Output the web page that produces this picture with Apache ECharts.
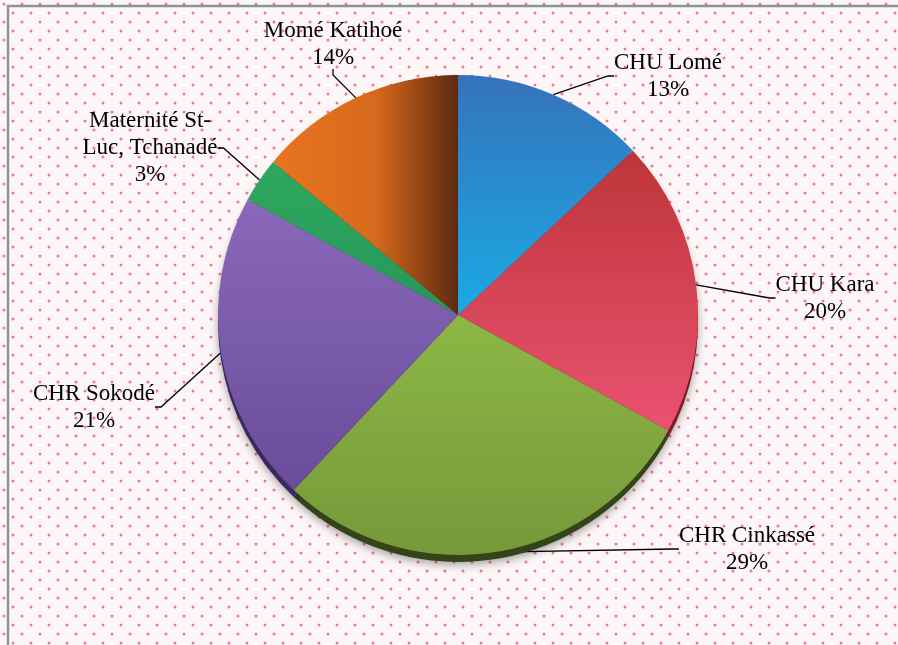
<!DOCTYPE html>
<html>
<head>
<meta charset="utf-8">
<script src="https://cdn.jsdelivr.net/npm/echarts@6/dist/echarts.min.js"></script>
<style>
  html, body { margin: 0; padding: 0; background: #fff; }
  #main { width: 898px; height: 645px; }
</style>
</head>
<body>
<div id="main"></div>
<script>
var hopitaux = ['CHU Lomé', 'CHU Kara', 'CHR Cinkassé', 'CHR Sokodé', 'Maternité St-\nLuc, Tchanadé', 'Momé Katihoé'];
var parts = [13, 20, 29, 21, 3, 14];

// couleurs des secteurs (haut, bas) + bord sombre
var couleurs = [
  ['#3672bc', '#1aaae3'],
  ['#bd3538', '#ea5271'],
  ['#8cb846', '#76983a'],
  ['#8a68ba', '#6a4c9a'],
  ['#2ea85e', '#26985a'],
  ['#e8741f', '#5c2a10']
];
var bords = ['#1a4a80', '#7a1e22', '#34441a', '#3a2860', '#145a30', '#5a2a0c'];

// placement des étiquettes (centre du bloc)
var labelPos = [[668, 76], [825, 298], [747, 549], [94, 407], [150, 148], [333, 44]];

// motif à pois roses
var motif = document.createElement('canvas');
motif.width = 18; motif.height = 18;
var c = motif.getContext('2d');
c.fillStyle = '#fdf6f7';
c.fillRect(0, 0, 18, 18);
c.fillStyle = '#ef7895';
[[4, 4], [13, 13]].forEach(function (p) {
  c.beginPath(); c.arc(p[0], p[1], 1.5, 0, Math.PI * 2); c.fill();
});

var myChart = echarts.init(document.getElementById('main'));

var faces = hopitaux.map(function (n, i) {
  var col = couleurs[i];
  var grad = i == 5
    ? new echarts.graphic.LinearGradient(0, 0, 1, 0, [
        {offset: 0, color: col[0]}, {offset: 0.55, color: '#d8691c'}, {offset: 1, color: col[1]}])
    : new echarts.graphic.LinearGradient(0, 0, 0, 1, [
        {offset: 0, color: col[0]}, {offset: 1, color: col[1]}]);
  return {name: n, value: parts[i], itemStyle: {color: grad}};
});
var dessous = hopitaux.map(function (n, i) {
  return {name: n, value: parts[i], itemStyle: {color: bords[i]}};
});

option = {
  backgroundColor: {image: motif, repeat: 'repeat'},
  animation: false,
  graphic: [{
    type: 'rect',
    shape: {x: 8, y: 6, width: 910, height: 660},
    style: {fill: null, stroke: '#8d949a', lineWidth: 2.5},
    silent: true
  }],
  series: [
    {
      type: 'pie',
      silent: true,
      center: [458, 322],
      radius: 240,
      startAngle: 90,
      clockwise: true,
      label: {show: false},
      labelLine: {show: false},
      itemStyle: {shadowBlur: 8, shadowColor: 'rgba(0,0,0,0.35)', shadowOffsetY: 3},
      data: dessous
    },
    {
      type: 'pie',
      center: [458, 315],
      radius: 240,
      startAngle: 90,
      clockwise: true,
      itemStyle: {borderWidth: 0},
      label: {
        formatter: function (p) {
          return '{n|' + p.name + '}\n{n|' + p.value + '%}';
        },
        rich: {
          n: {
            fontFamily: 'Liberation Serif',
            fontSize: 23,
            lineHeight: 27,
            color: '#000',
            align: 'center'
          }
        }
      },
      labelLine: {
        show: true,
        length2: 6,
        lineStyle: {color: '#000', width: 1.3}
      },
      labelLayout: function (params) {
        var p = labelPos[params.dataIndex];
        return {x: p[0], y: p[1], align: 'center', verticalAlign: 'middle'};
      },
      data: faces
    }
  ]
};
myChart.setOption(option);
</script>
</body>
</html>
